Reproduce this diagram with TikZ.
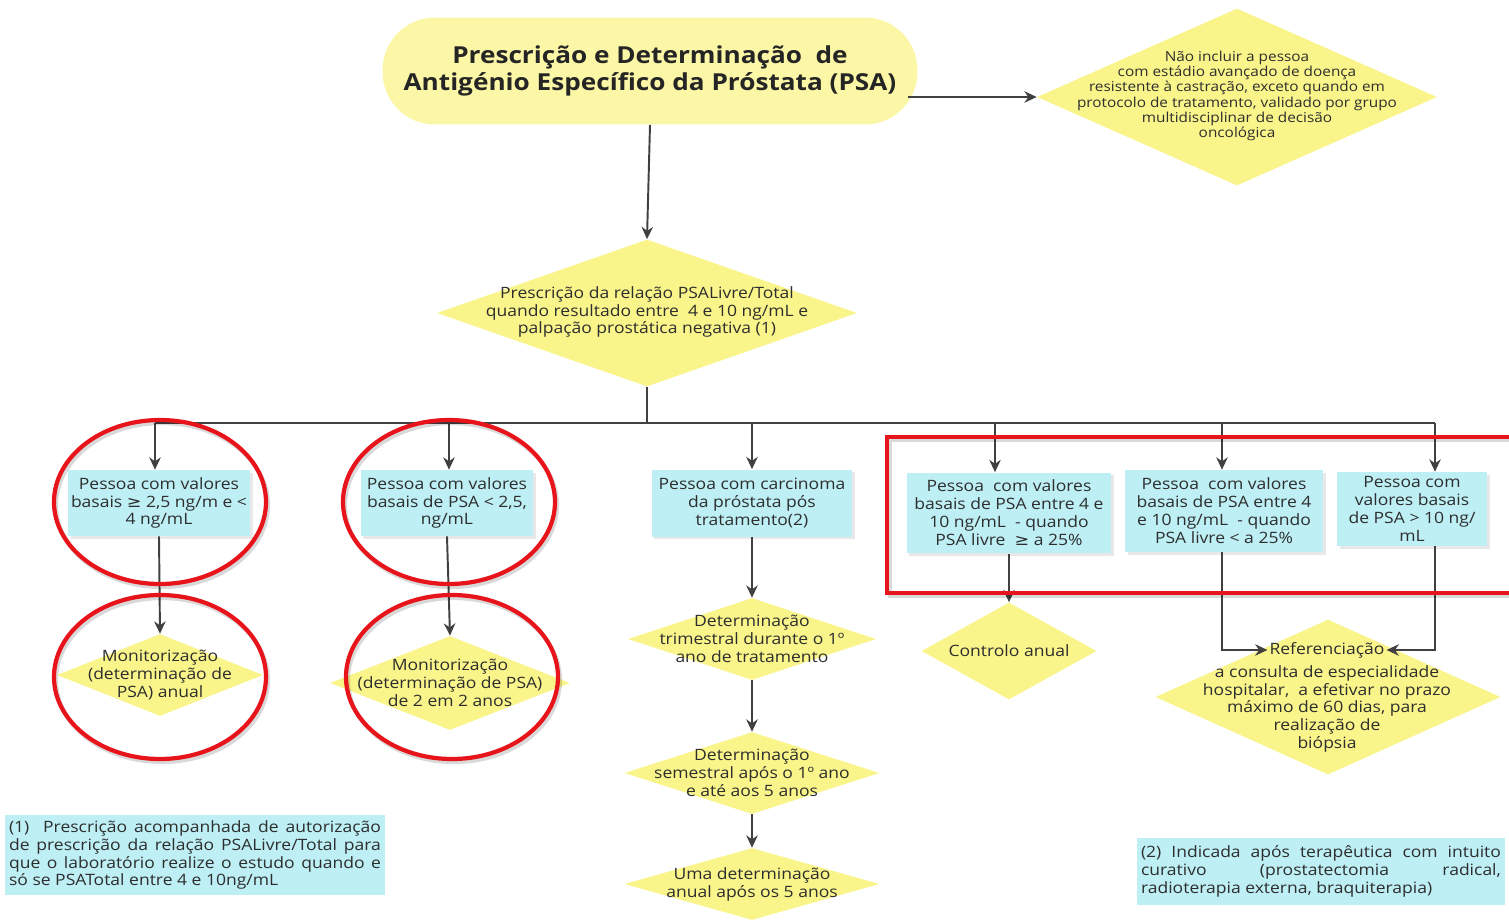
\documentclass[tikz,border=0pt]{standalone}
\usepackage{fontspec}
\setmainfont[FakeStretch=1.12]{Open Sans}
\newfontfamily\symf[FakeStretch=1.12]{DejaVu Sans}
\usetikzlibrary{shapes.geometric,arrows.meta,shadows,calc}
\definecolor{yel}{HTML}{F9F58A}
\definecolor{ttl}{HTML}{FBF7A6}
\definecolor{cy}{HTML}{BDEFF5}
\definecolor{redl}{HTML}{E8141B}
\definecolor{arr}{HTML}{404040}
\definecolor{txt}{HTML}{2E2E2E}
\tikzset{
  base/.style={font=\fontsize{8.9}{10.2}\selectfont, text=txt, align=center},
  cybox/.style={base, fill=cy, inner sep=0pt, drop shadow={opacity=0.18, shadow xshift=1.5pt, shadow yshift=-1.5pt}},
  dia/.style={shape=diamond, fill=yel, inner sep=0pt, draw=none},
  dtext/.style={base},
  arrow/.style={draw=arr, line width=1.1pt, -{Stealth[length=7pt,width=6.5pt]}},
  plain/.style={draw=arr, line width=1.1pt},
  redmark/.style={draw=redl, line width=2.4pt},
  redshadow/.style={draw=black, opacity=0.15, line width=2.4pt},
  fnbox/.style={fill=cy, inner sep=0pt, font=\fontsize{8.9}{10.2}\selectfont, text=txt, align=justify}
}
\begin{document}
\begin{tikzpicture}[x=0.02cm,y=-0.02cm]
\useasboundingbox (0,0) rectangle (1509,920);
\fill[white] (0,0) rectangle (1509,920);

% title
\node[fill=ttl, rounded corners=1.05cm, minimum width=10.7cm, minimum height=2.14cm, font=\bfseries\fontsize{13.3}{15.3}\selectfont, text=txt!80!black, align=center] (title) at (650,71)
  {Prescrição e Determinação\ \ de\\Antigénio Específico da Próstata (PSA)};

% top-right diamond
\node[dia, minimum width=8.0cm, minimum height=3.54cm] (dtop) at (1237,97) {};
\node[base, font=\fontsize{7.8}{8.75}\selectfont] (dtopT) at (1237,96)
  {Não incluir a pessoa\\com estádio avançado de doença\\resistente à castração, exceto quando em\\protocolo de tratamento, validado por grupo\\multidisciplinar de decisão\\oncológica};

% second diamond
\node[dia, minimum width=8.4cm, minimum height=2.94cm] (d2) at (647,313) {};
\node[dtext] (d2T) at (647,312)
  {Prescrição da relação PSALivre/Total\\quando resultado entre\ \ 4 e 10 ng/mL e\\palpação prostática negativa (1)};

% cyan boxes
\node[cybox, minimum width=3.64cm, minimum height=1.32cm] (b1) at (159,503)
  {Pessoa com valores\\basais {\symf ≥} 2,5 ng/m e <\\4 ng/mL};
\node[cybox, minimum width=3.46cm, minimum height=1.32cm] (b2) at (447,503)
  {Pessoa com valores\\basais de PSA < 2,5,\\ng/mL};
\node[cybox, minimum width=4.02cm, minimum height=1.34cm] (b3) at (752,503)
  {Pessoa com carcinoma\\da próstata pós\\tratamento(2)};
\node[cybox, minimum width=4.10cm, minimum height=1.62cm] (b4) at (1009,513)
  {Pessoa\ \ com valores\\basais de PSA entre 4 e\\10 ng/mL\ \ - quando\\PSA livre\ \ {\symf ≥} a 25\%};
\node[cybox, minimum width=3.96cm, minimum height=1.64cm] (b5) at (1224,511)
  {Pessoa\ \ com valores\\basais de PSA entre 4\\e 10 ng/mL\ \ - quando\\PSA livre < a 25\%};
\node[cybox, minimum width=3.00cm, minimum height=1.48cm] (b6) at (1412,509)
  {Pessoa com\\valores basais\\de PSA > 10 ng/\\mL};

% lower diamonds
\node[dia, minimum width=4.12cm, minimum height=1.64cm] (m1) at (160,675) {};
\node[dtext] at (m1) {Monitorização\\(determinação de\\PSA) anual};
\node[dia, minimum width=4.8cm, minimum height=1.88cm] (m2) at (450,683) {};
\node[dtext] at (m2) {Monitorização\\(determinação de PSA)\\de 2 em 2 anos};
\node[dia, minimum width=4.96cm, minimum height=1.64cm] (t1) at (752,639) {};
\node[dtext] at (t1) {Determinação\\trimestral durante o 1º\\ano de tratamento};
\node[dia, minimum width=5.1cm, minimum height=1.64cm] (t2) at (752,773) {};
\node[dtext] at (t2) {Determinação\\semestral após o 1º ano\\e até aos 5 anos};
\node[dia, minimum width=5.1cm, minimum height=1.44cm] (t3) at (752,884) {};
\node[dtext] at (t3) {Uma determinação\\anual após os 5 anos};
\node[dia, minimum width=3.5cm, minimum height=1.94cm] (ctrl) at (1009,651) {};
\node[dtext] at (ctrl) {Controlo anual};
\node[dia, minimum width=6.9cm, minimum height=3.1cm] (refd) at (1328,697) {};
\node[dtext, inner sep=1pt] (ref) at (1327,650) {Referenciação};
\node[dtext, anchor=north] (refB) at (1327,659)
  {a consulta de especialidade\\hospitalar,\ \ a efetivar no prazo\\máximo de 60 dias, para\\realização de\\biópsia};

% footnotes
\node[fnbox, minimum width=7.6cm, minimum height=1.6cm, text width=7.44cm] (fn1) at (195,855)
  {(1)\ \ Prescrição acompanhada de autorização\linebreak de prescrição da relação PSALivre/Total para\linebreak que o laboratório realize o estudo quando e\linebreak só se PSATotal entre 4 e 10ng/mL};
\node[fnbox, minimum width=7.36cm, minimum height=1.34cm, text width=7.2cm] (fn2) at (1321,871)
  {(2) Indicada após terapêutica com intuito\linebreak curativo (prostatectomia radical,\linebreak radioterapia externa, braquiterapia)};

% connectors
\draw[arrow] ([xshift=-0.2cm]title.east |- dtop.west) -- (dtop.west);
\draw[arrow] (title.south) -- (d2.north);
\coordinate (busC) at (647,423);
\coordinate (busL) at (155,423);
\coordinate (busR) at (1435,423);
\draw[plain] (d2.south) -- (busC);
\draw[plain] (busL) -- (busR);
\coordinate (k1) at (155,423);
\coordinate (k2) at (449,423);
\coordinate (k3) at (752,423);
\coordinate (k4) at (995,423);
\coordinate (k5) at (1222,423);
\coordinate (k6) at (1435,423);
\draw[arrow] (k1) -- (k1 |- b1.north);
\draw[arrow] (k2) -- (k2 |- b2.north);
\draw[arrow] (k3) -- (k3 |- b3.north);
\draw[arrow] (k4) -- (k4 |- b4.north);
\draw[arrow] (k5) -- (k5 |- b5.north);
\draw[arrow] (k6) -- (k6 |- b6.north);

\draw[arrow] (b1.south) -- (m1.north);
\draw[arrow] (b2.south) -- (m2.north);
\draw[arrow] (b3.south) -- (t1.north);
\draw[arrow] (t1.south) -- (t2.north);
\draw[arrow] (t2.south) -- (t3.north);
\draw[arrow] (b4.south) -- (ctrl.north);
\draw[arrow] (k5 |- b5.south) |- (ref.west);
\draw[arrow] (k6 |- b6.south) |- (ref.east);

% red highlights
\foreach \cx/\cy in {160/502, 160/677, 449/502, 452/677}{
  \draw[redshadow] (\cx+2,\cy+3) ellipse [x radius=106, y radius=82];
  \draw[redmark] (\cx,\cy) ellipse [x radius=106, y radius=82];
}
\draw[redshadow] (890,440) rectangle (1520,596);
\draw[redmark] (887,437) rectangle (1520,593);
\end{tikzpicture}
\end{document}
